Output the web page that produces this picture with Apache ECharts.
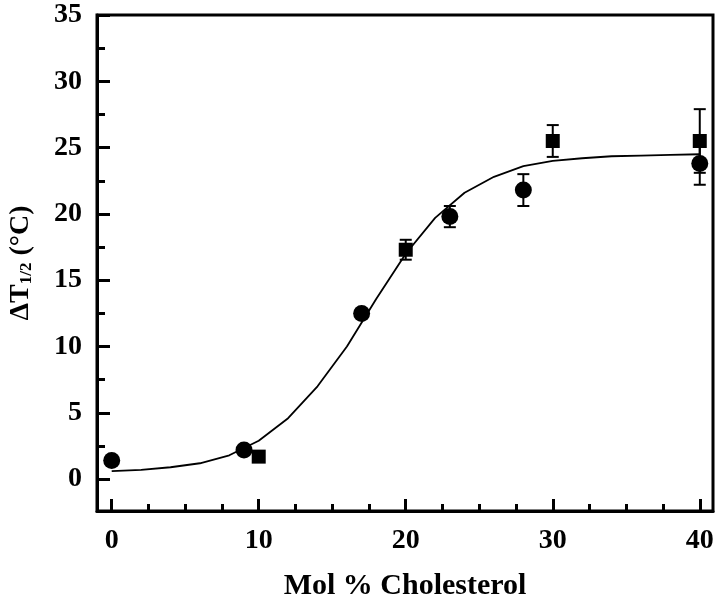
<!DOCTYPE html>
<html>
<head>
<meta charset="utf-8">
<script src="https://cdn.jsdelivr.net/npm/echarts@6/dist/echarts.min.js"></script>
<style>html,body{margin:0;padding:0;background:#fff;}#c{width:720px;height:596px;}</style>
</head>
<body>
<div id="c"></div>
<script>
const circleX = [0, 9, 17, 23, 28, 40];
const circleY = [1.4, 2.2, 12.5, 19.8, 21.8, 23.8];
const circleErr = [0.3, 0, 0, 0.8, 1.2, 1.6];
const squareX = [10, 20, 30, 40];
const squareY = [1.7, 17.3, 25.5, 25.5];
const squareErr = [0, 0.75, 1.2, 2.4];
const fitX = [0, 2, 4, 6, 8, 10, 12, 14, 16, 18, 20, 22, 24, 26, 28, 30, 32, 34, 36, 38, 40];
const fitY = [0.6, 0.7, 0.9, 1.2, 1.8, 2.9, 4.6, 7.0, 10.0, 13.6, 17.0, 19.7, 21.6, 22.8, 23.6, 24.0, 24.2, 24.35, 24.4, 24.45, 24.5];
const xMajor = [0, 10, 20, 30, 40];
const xMinor = [2.5, 5, 7.5, 12.5, 15, 17.5, 22.5, 25, 27.5, 32.5, 35, 37.5];
const yMajor = [0, 5, 10, 15, 20, 25, 30, 35];
const yMinor = [2.5, 7.5, 12.5, 17.5, 22.5, 27.5, 32.5];
const xTitle = 'Mol % Cholesterol';

const FONT = "'Liberation Serif','Times New Roman',serif";
const zip = (a, b, c) => a.map((v, i) => c ? [v, b[i], c[i]] : [v, b[i]]);

function errItem(params, api) {
  const x = api.value(0), y = api.value(1), e = api.value(2);
  if (!e) return null;
  const t = api.coord([x, y + e]), b = api.coord([x, y - e]);
  const hw = 6;
  const st = {stroke: '#000', lineWidth: 2};
  return {type: 'group', children: [
    {type: 'line', shape: {x1: t[0], y1: t[1], x2: b[0], y2: b[1]}, style: st},
    {type: 'line', shape: {x1: t[0] - hw, y1: t[1], x2: t[0] + hw, y2: t[1]}, style: st},
    {type: 'line', shape: {x1: b[0] - hw, y1: b[1], x2: b[0] + hw, y2: b[1]}, style: st}
  ]};
}

const xMin = -1, xMax = 40.9, yMin = -2.4, yMax = 35;
const chart = echarts.init(document.getElementById('c'), null, {renderer: 'canvas'});
chart.setOption({
  animation: false,
  backgroundColor: '#fff',
  grid: {left: 97, top: 15, right: 7, bottom: 85, containLabel: false, outerBoundsMode: 'none',
         show: true, borderColor: '#000', borderWidth: 3, backgroundColor: 'transparent'},
  xAxis: [
    {type: 'value', min: xMin, max: xMax, position: 'bottom',
     axisLine: {show: true, onZero: false, lineStyle: {color: '#000', width: 3}},
     axisTick: {show: true, inside: true, length: 12, customValues: xMajor, lineStyle: {color: '#000', width: 3}},
     axisLabel: {show: true, customValues: xMajor, margin: 16, color: '#000', fontFamily: FONT, fontWeight: 'bold', fontSize: 28},
     splitLine: {show: false},
     name: xTitle, nameLocation: 'middle', nameGap: 60,
     nameTextStyle: {color: '#000', fontFamily: FONT, fontWeight: 'bold', fontSize: 30}},
    {type: 'value', min: xMin, max: xMax, position: 'bottom',
     axisLine: {show: false, onZero: false},
     axisTick: {show: true, inside: true, length: 7, customValues: xMinor, lineStyle: {color: '#000', width: 3}},
     axisLabel: {show: false}, splitLine: {show: false}}
  ],
  yAxis: [
    {type: 'value', min: yMin, max: yMax, position: 'left',
     axisLine: {show: true, onZero: false, lineStyle: {color: '#000', width: 3}},
     axisTick: {show: true, inside: true, length: 13, customValues: yMajor, lineStyle: {color: '#000', width: 3}},
     axisLabel: {show: true, customValues: yMajor, margin: 15, color: '#000', fontFamily: FONT, fontWeight: 'bold', fontSize: 28},
     splitLine: {show: false},
     name: '{m|ΔT}{s|1/2}{m| (°C)}', nameLocation: 'middle', nameGap: 62, nameRotate: 90,
     nameTextStyle: {color: '#000', fontFamily: FONT, fontWeight: 'bold', fontSize: 28,
       rich: {
         m: {fontFamily: FONT, fontWeight: 'bold', fontSize: 28, color: '#000', verticalAlign: 'bottom', lineHeight: 30},
         s: {fontFamily: FONT, fontWeight: 'bold', fontSize: 17, color: '#000', verticalAlign: 'bottom', lineHeight: 30, padding: [14, 0, 0, 0]}
       }}},
    {type: 'value', min: yMin, max: yMax, position: 'left',
     axisLine: {show: false, onZero: false},
     axisTick: {show: true, inside: true, length: 8, customValues: yMinor, lineStyle: {color: '#000', width: 3}},
     axisLabel: {show: false}, splitLine: {show: false}}
  ],
  series: [
    {type: 'line', data: zip(fitX, fitY), symbol: 'none', smooth: false,
     lineStyle: {color: '#000', width: 1.8}, z: 2},
    {type: 'custom', data: zip(circleX, circleY, circleErr), renderItem: errItem, z: 3},
    {type: 'custom', data: zip(squareX, squareY, squareErr), renderItem: errItem, z: 3},
    {type: 'scatter', data: zip(circleX, circleY), symbol: 'circle', symbolSize: 17,
     itemStyle: {color: '#000', opacity: 1}, z: 4},
    {type: 'scatter', data: zip(squareX, squareY), symbol: 'rect', symbolSize: 14,
     itemStyle: {color: '#000', opacity: 1}, z: 4}
  ]
});
</script>
</body>
</html>
